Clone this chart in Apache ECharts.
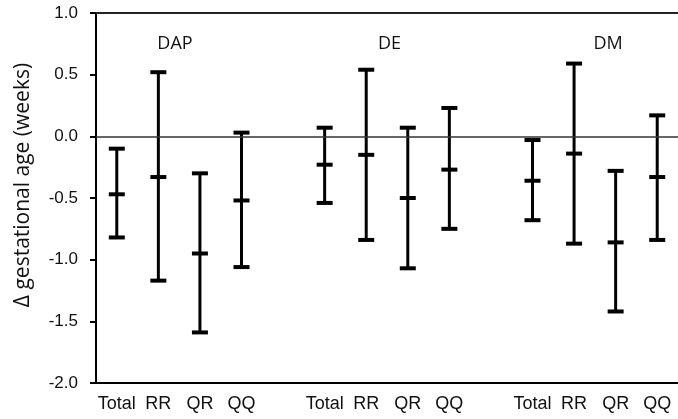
<!DOCTYPE html>
<html>
<head>
<meta charset="utf-8">
<script src="https://cdn.jsdelivr.net/npm/echarts@6/dist/echarts.min.js"></script>
<style>html,body{margin:0;padding:0;background:#fff}#c{width:678px;height:419px}</style>
</head>
<body>
<div id="c"></div>
<script>
const categories = ['Total','RR','QR','QQ','', 'Total','RR','QR','QQ','', 'Total','RR','QR','QQ'];
const lower = [-0.82, -1.17, -1.59, -1.06, null, -0.54, -0.84, -1.07, -0.75, null, -0.68, -0.87, -1.42, -0.84];
const mean  = [-0.47, -0.33, -0.95, -0.52, null, -0.23, -0.15, -0.50, -0.27, null, -0.36, -0.14, -0.86, -0.33];
const upper = [-0.10,  0.52, -0.30,  0.03, null,  0.07,  0.54,  0.07,  0.23, null, -0.03,  0.59, -0.28,  0.17];
const groupLabels = ['DAP', 'DE', 'DM'];
const yName = 'Δ gestational age (weeks)';

const chart = echarts.init(document.getElementById('c'), null, {renderer: 'canvas'});
const data = categories.map((c, i) => [i, lower[i], mean[i], upper[i]]).filter(d => d[1] !== null);

chart.setOption({
  animation: false,
  grid: {left: 96, top: 13, width: 584, height: 370},
  xAxis: [{
    type: 'category', data: categories, position: 'bottom',
    axisLine: {onZero: false, lineStyle: {color: '#000', width: 2}},
    axisTick: {show: false},
    axisLabel: {color: '#111', fontFamily: 'Liberation Sans', fontSize: 18, margin: 12, interval: 0}
  }, {
    type: 'category', data: categories, position: 'top',
    axisLine: {onZero: false, lineStyle: {color: '#222', width: 2}},
    axisTick: {show: false}, axisLabel: {show: false}
  }],
  yAxis: {
    type: 'value', min: -2, max: 1, interval: 0.5,
    axisLine: {show: true, lineStyle: {color: '#000', width: 2}},
    axisTick: {show: true, length: 6, lineStyle: {color: '#000', width: 2}},
    splitLine: {show: false},
    axisLabel: {color: '#111', fontFamily: 'Liberation Sans', fontSize: 17, margin: 18,
      formatter: v => v.toFixed(1)}
  },
  graphic: [
    {type: 'text', x: 23, y: 185, rotation: Math.PI / 2,
      style: {text: yName, align: 'center', verticalAlign: 'middle', fill: '#111',
        font: '21px "Open Sans"'}},
    {type: 'text', x: 175, y: 44, style: {text: groupLabels[0], align: 'center', verticalAlign: 'middle', fill: '#111', font: '18px "Open Sans"'}},
    {type: 'text', x: 389.5, y: 44, style: {text: groupLabels[1], align: 'center', verticalAlign: 'middle', fill: '#111', font: '18px "Open Sans"'}},
    {type: 'text', x: 608, y: 44, style: {text: groupLabels[2], align: 'center', verticalAlign: 'middle', fill: '#111', font: '18px "Open Sans"'}}
  ],
  series: [{
    type: 'custom',
    data: data,
    encode: {x: 0, y: [1, 2, 3]},
    renderItem: function (params, api) {
      const x = api.value(0);
      const pLo = api.coord([x, api.value(1)]);
      const pMid = api.coord([x, api.value(2)]);
      const pHi = api.coord([x, api.value(3)]);
      const hw = 8;
      const st = {stroke: '#000', lineWidth: 4};
      return {type: 'group', children: [
        {type: 'line', shape: {x1: pLo[0], y1: pLo[1], x2: pHi[0], y2: pHi[1]}, style: {stroke: '#000', lineWidth: 3}},
        {type: 'line', shape: {x1: pLo[0] - hw, y1: pLo[1], x2: pLo[0] + hw, y2: pLo[1]}, style: st},
        {type: 'line', shape: {x1: pMid[0] - hw, y1: pMid[1], x2: pMid[0] + hw, y2: pMid[1]}, style: st},
        {type: 'line', shape: {x1: pHi[0] - hw, y1: pHi[1], x2: pHi[0] + hw, y2: pHi[1]}, style: st}
      ]};
    },
    markLine: {
      silent: true, symbol: 'none', label: {show: false},
      lineStyle: {color: '#333', width: 1.5, type: 'solid'},
      data: [{yAxis: 0}]
    },
    z: 3
  }]
});
</script>
</body>
</html>
